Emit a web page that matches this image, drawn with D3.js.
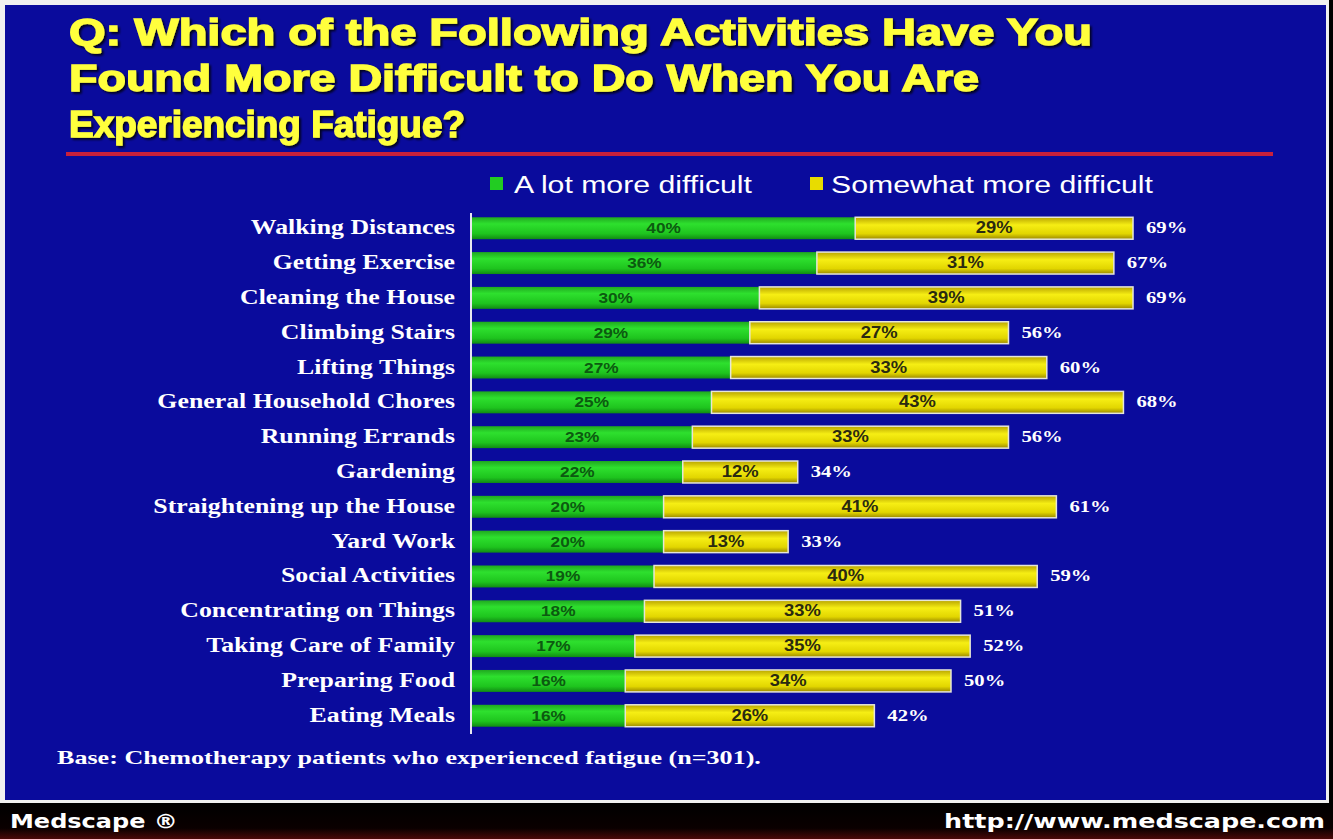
<!DOCTYPE html>
<html lang="en">
<head>
<meta charset="utf-8"/>
<title>Fatigue activities</title>
<style>
    body { margin: 0; background: #fff; }
    svg { display: block; }
    .title { font-family: "Liberation Sans", Arial, sans-serif; font-weight: bold; font-size: 37px; fill: #ffff3c; stroke: #ffff3c; stroke-width: 1.4px; }
    .legend { font-family: "Liberation Sans", Arial, sans-serif; font-size: 24px; fill: #ffffff; }
    .cat { font-family: "Liberation Serif", "Times New Roman", serif; font-weight: bold; font-size: 20px; fill: #ffffff; }
    .total { font-family: "Liberation Serif", "Times New Roman", serif; font-weight: bold; font-size: 16px; fill: #ffffff; }
    .inner { font-family: "Liberation Sans", Arial, sans-serif; font-weight: bold; font-size: 15px; }
    .note { font-family: "Liberation Serif", "Times New Roman", serif; font-weight: bold; font-size: 18px; fill: #ffffff; }
    .foot { font-family: "DejaVu Sans", Arial, sans-serif; font-weight: bold; font-size: 20px; fill: #ffffff; }
</style>
</head>
<body>
<div class="viz"></div>
<script src="https://cdnjs.cloudflare.com/ajax/libs/d3/7.8.5/d3.min.js"></script>
<script>
    var categories = ["Walking Distances", "Getting Exercise", "Cleaning the House", "Climbing Stairs",
        "Lifting Things", "General Household Chores", "Running Errands", "Gardening",
        "Straightening up the House", "Yard Work", "Social Activities", "Concentrating on Things",
        "Taking Care of Family", "Preparing Food", "Eating Meals"];
    var aLot = [40, 36, 30, 29, 27, 25, 23, 22, 20, 20, 19, 18, 17, 16, 16];
    var somewhat = [29, 31, 39, 27, 33, 43, 33, 12, 41, 13, 40, 33, 35, 34, 26];
    var totals = [69, 67, 69, 56, 60, 68, 56, 34, 61, 33, 59, 51, 52, 50, 42];
    var seriesNames = ["A lot more difficult", "Somewhat more difficult"];
    var titleLines = ["Q: Which of the Following Activities Have You",
        "Found More Difficult to Do When You Are",
        "Experiencing Fatigue?"];

    var W = 1333, H = 839;
    var K = 1.29; // the slide is stretched sideways

    var svg = d3.select('.viz').append('svg')
        .attr('width', W)
        .attr('height', H);

    // put text at (x,y) and widen it by k
    function place(sel, fx, fy, k) {
        sel.attr('x', 0).attr('y', 0)
            .attr('transform', function(d, i) {
                return 'translate(' + fx(d, i) + ',' + fy(d, i) + ') scale(' + (k || K) + ',1)';
            });
        return sel;
    }

    var defs = svg.append('defs');
    var gGreen = defs.append('linearGradient').attr('id', 'gGreen')
        .attr('x1', 0).attr('y1', 0).attr('x2', 0).attr('y2', 1);
    gGreen.append('stop').attr('offset', '0%').attr('stop-color', '#20a820');
    gGreen.append('stop').attr('offset', '30%').attr('stop-color', '#2ee02e');
    gGreen.append('stop').attr('offset', '75%').attr('stop-color', '#1ec41e');
    gGreen.append('stop').attr('offset', '100%').attr('stop-color', '#118a14');
    var gYellow = defs.append('linearGradient').attr('id', 'gYellow')
        .attr('x1', 0).attr('y1', 0).attr('x2', 0).attr('y2', 1);
    gYellow.append('stop').attr('offset', '0%').attr('stop-color', '#b8a400');
    gYellow.append('stop').attr('offset', '35%').attr('stop-color', '#f6ee14');
    gYellow.append('stop').attr('offset', '75%').attr('stop-color', '#e2d600');
    gYellow.append('stop').attr('offset', '100%').attr('stop-color', '#9a8800');
    var gFoot = defs.append('linearGradient').attr('id', 'gFoot')
        .attr('x1', 0).attr('y1', 0).attr('x2', 0).attr('y2', 1);
    gFoot.append('stop').attr('offset', '0%').attr('stop-color', '#000');
    gFoot.append('stop').attr('offset', '70%').attr('stop-color', '#0a0000');
    gFoot.append('stop').attr('offset', '100%').attr('stop-color', '#4a0808');
    var shadow = defs.append('filter').attr('id', 'shadow');
    shadow.append('feDropShadow').attr('dx', 2).attr('dy', 2).attr('stdDeviation', 1)
        .attr('flood-color', '#000').attr('flood-opacity', 0.8);

    // frame
    svg.append('rect').attr('width', W).attr('height', H).attr('fill', '#000');
    svg.append('rect').attr('x', 0).attr('y', 0).attr('width', W - 4).attr('height', 803).attr('fill', '#f0f0f0');
    svg.append('rect').attr('x', 5).attr('y', 5).attr('width', W - 12).attr('height', 795).attr('fill', '#0a0b9c');
    svg.append('rect').attr('x', 0).attr('y', 803).attr('width', W).attr('height', 36).attr('fill', 'url(#gFoot)');

    // title
    svg.append('g').selectAll('text')
        .data(titleLines)
        .join('text')
        .attr('class', 'title')
        .attr('filter', 'url(#shadow)')
        .attr('x', 69)
        .attr('y', function(d, i) { return 45 + i * 46; })
        .attr('textLength', function(d, i) { return [1023, 910, 396][i]; })
        .attr('lengthAdjust', 'spacingAndGlyphs')
        .text(function(d) { return d; });

    svg.append('line')
        .attr('x1', 66).attr('x2', 1273)
        .attr('y1', 154).attr('y2', 154)
        .attr('stroke', '#c8203c').attr('stroke-width', 4);

    // scales
    var x = d3.scaleLinear().domain([0, 100]).range([472, 472 + 958]);
    var y = d3.scaleBand().domain(categories).range([211, 733]).paddingInner(0.37).paddingOuter(0.18);

    // legend
    var legend = svg.append('g');
    var legX = [490, 810];
    var fills = ['url(#gGreen)', 'url(#gYellow)'];
    legend.selectAll('rect')
        .data(seriesNames)
        .join('rect')
        .attr('x', function(d, i) { return legX[i]; })
        .attr('y', 177).attr('width', 13).attr('height', 13)
        .attr('fill', function(d, i) { return i ? '#e8dc00' : '#22cc22'; });
    place(legend.selectAll('text')
        .data(seriesNames)
        .join('text')
        .attr('class', 'legend')
        .text(function(d) { return d; }),
        function(d, i) { return legX[i] + (i ? 21 : 24); }, function() { return 193; },
        1.26);

    // axis line
    svg.append('line')
        .attr('x1', 471).attr('x2', 471)
        .attr('y1', 213).attr('y2', 734)
        .attr('stroke', '#e8e8f0').attr('stroke-width', 2);

    var rows = categories.map(function(c, i) {
        return { cat: c, a: aLot[i], s: somewhat[i], t: totals[i] };
    });

    var g = svg.append('g');

    g.selectAll('rect.green')
        .data(rows)
        .join('rect')
        .attr('class', 'green')
        .attr('x', x(0))
        .attr('y', function(d) { return y(d.cat); })
        .attr('width', function(d) { return x(d.a) - x(0); })
        .attr('height', y.bandwidth())
        .attr('fill', fills[0]);

    g.selectAll('rect.yellow')
        .data(rows)
        .join('rect')
        .attr('class', 'yellow')
        .attr('x', function(d) { return x(d.a); })
        .attr('y', function(d) { return y(d.cat); })
        .attr('width', function(d) { return x(d.a + d.s) - x(d.a); })
        .attr('height', y.bandwidth())
        .attr('fill', fills[1])
        .attr('stroke', '#e6e6d8')
        .attr('stroke-width', 1.5);

    function midY(d) { return y(d.cat) + y.bandwidth() / 2 + 5; }

    place(g.selectAll('text.ga')
        .data(rows)
        .join('text')
        .attr('class', 'inner ga')
        .attr('text-anchor', 'middle')
        .attr('fill', '#0c5a10')
        .text(function(d) { return d.a + '%'; }),
        function(d) { return (x(0) + x(d.a)) / 2; }, midY, 1.15);

    place(g.selectAll('text.sa')
        .data(rows)
        .join('text')
        .attr('class', 'inner sa')
        .attr('text-anchor', 'middle')
        .attr('fill', '#2a2a10')
        .style('font-size', '16px')
        .text(function(d) { return d.s + '%'; }),
        function(d) { return (x(d.a) + x(d.a + d.s)) / 2; }, midY, 1.15);

    place(g.selectAll('text.tot')
        .data(rows)
        .join('text')
        .attr('class', 'total')
        .text(function(d) { return d.t + '%'; }),
        function(d) { return x(d.t) + 13; }, midY);

    place(g.selectAll('text.cat')
        .data(rows)
        .join('text')
        .attr('class', 'cat')
        .attr('text-anchor', 'end')
        .text(function(d) { return d.cat; }),
        function() { return 455; }, function(d) { return y(d.cat) + y.bandwidth() / 2 + 6; });

    // note
    place(svg.append('text')
        .attr('class', 'note')
        .text('Base: Chemotherapy patients who experienced fatigue (n=301).'),
        function() { return 57; }, function() { return 764; }, 1.45);

    // footer
    place(svg.append('text').attr('class', 'foot').text('Medscape ®'),
        function() { return 10; }, function() { return 828; }, 1.2);
    place(svg.append('text').attr('class', 'foot').attr('text-anchor', 'end').text('http://www.medscape.com'),
        function() { return 1325; }, function() { return 828; }, 1.27);
</script>
</body>
</html>
